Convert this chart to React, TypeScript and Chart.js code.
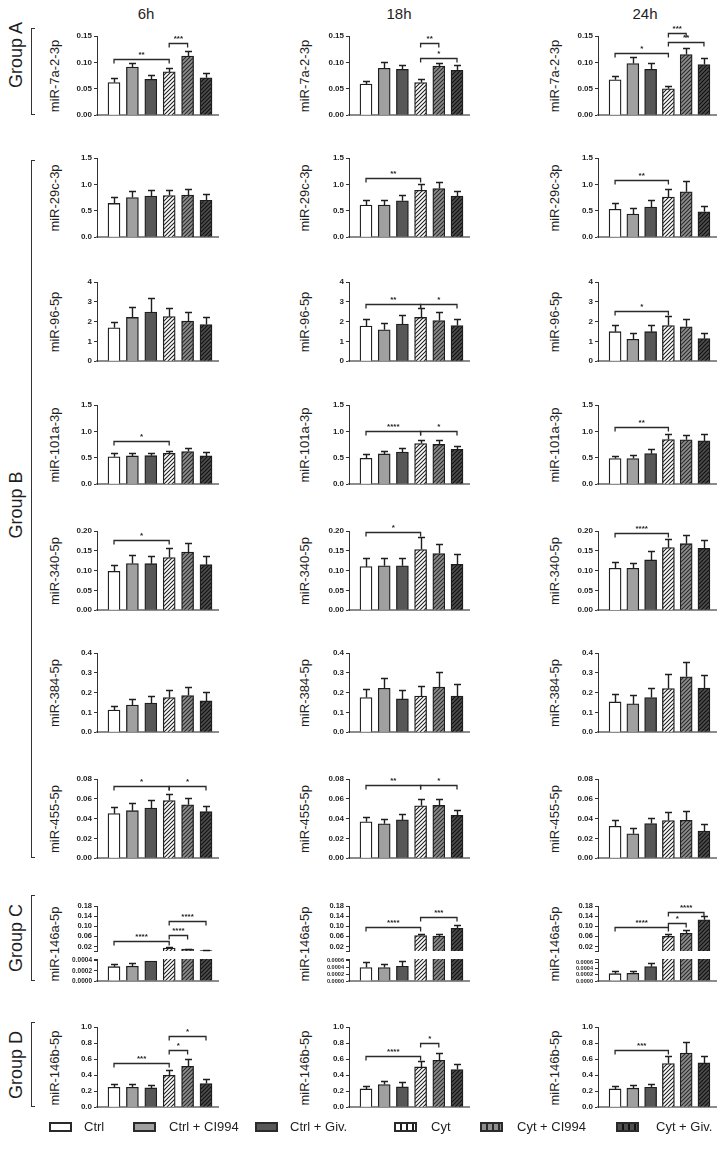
import React, { useEffect, useRef } from "react";
import { Chart, registerables } from "chart.js";

Chart.register(...registerables);

// ---------- categories & labels ----------
const conditions = ["Ctrl", "Ctrl + CI994", "Ctrl + Giv.", "Cyt", "Cyt + CI994", "Cyt + Giv."];
const timepoints = ["6h", "18h", "24h"];
const mirnas = [
  "miR-7a-2-3p", "miR-29c-3p", "miR-96-5p", "miR-101a-3p", "miR-340-5p",
  "miR-384-5p", "miR-455-5p", "miR-146a-5p", "miR-146b-5p",
];
const groupNames = ["Group A", "Group B", "Group C", "Group D"];

// ---------- axis settings (per miRNA row) ----------
const yMaxes = [0.15, 1.5, 4, 1.5, 0.2, 0.4, 0.08, 0.18, 1.0];
const ySteps = [0.05, 0.5, 1, 0.5, 0.05, 0.1, 0.02, 0.04, 0.2];
const yDecimals = [2, 1, 0, 1, 2, 1, 2, 2, 1];
const mir146aTopTicks = [0.02, 0.06, 0.1, 0.14, 0.18];
const mir146aLowMax = [0.00043, 0.00064, 0.00072];
const mir146aLowTicks = [0, 0.0002, 0.0004, 0.0006];

type Sig = [number, number, number, string];

// ---------- data: means, SEM, significance brackets ----------
const m7a_6h = [0.062, 0.091, 0.068, 0.082, 0.112, 0.071];
const e7a_6h = [0.009, 0.007, 0.008, 0.008, 0.01, 0.009];
const m7a_18h = [0.059, 0.089, 0.087, 0.062, 0.093, 0.085];
const e7a_18h = [0.006, 0.011, 0.009, 0.006, 0.006, 0.01];
const m7a_24h = [0.067, 0.098, 0.087, 0.05, 0.115, 0.096];
const e7a_24h = [0.007, 0.013, 0.012, 0.006, 0.013, 0.013];
const s7a_6h: Sig[] = [[0, 3, 0.106, "**"], [3, 4, 0.137, "***"]];
const s7a_18h: Sig[] = [[3, 4, 0.136, "**"], [3, 5, 0.108, "*"]];
const s7a_24h: Sig[] = [[0, 3, 0.118, "*"], [3, 4, 0.156, "***"], [3, 5, 0.138, "**"]];

const m29c_6h = [0.64, 0.75, 0.78, 0.79, 0.8, 0.7];
const e29c_6h = [0.12, 0.12, 0.11, 0.1, 0.11, 0.11];
const m29c_18h = [0.61, 0.61, 0.69, 0.89, 0.92, 0.78];
const e29c_18h = [0.1, 0.1, 0.11, 0.12, 0.12, 0.09];
const m29c_24h = [0.53, 0.44, 0.57, 0.76, 0.86, 0.48];
const e29c_24h = [0.12, 0.11, 0.13, 0.16, 0.2, 0.12];
const s29c_6h: Sig[] = [];
const s29c_18h: Sig[] = [[0, 3, 1.125, "**"]];
const s29c_24h: Sig[] = [[0, 3, 1.08, "**"]];

const m96_6h = [1.69, 2.21, 2.48, 2.25, 2.02, 1.85];
const e96_6h = [0.29, 0.55, 0.69, 0.46, 0.49, 0.36];
const m96_18h = [1.77, 1.59, 1.88, 2.21, 2.05, 1.8];
const e96_18h = [0.36, 0.33, 0.43, 0.47, 0.41, 0.33];
const m96_24h = [1.49, 1.11, 1.49, 1.8, 1.74, 1.14];
const e96_24h = [0.36, 0.29, 0.33, 0.46, 0.41, 0.3];
const s96_6h: Sig[] = [];
const s96_18h: Sig[] = [[0, 3, 2.88, "**"], [3, 5, 2.88, "*"]];
const s96_24h: Sig[] = [[0, 3, 2.55, "*"]];

const m101_6h = [0.52, 0.535, 0.54, 0.585, 0.62, 0.535];
const e101_6h = [0.068, 0.05, 0.06, 0.05, 0.065, 0.075];
const m101_18h = [0.49, 0.573, 0.61, 0.77, 0.753, 0.66];
const e101_18h = [0.076, 0.062, 0.075, 0.076, 0.081, 0.062];
const m101_24h = [0.485, 0.485, 0.579, 0.846, 0.84, 0.82];
const e101_24h = [0.05, 0.063, 0.081, 0.112, 0.1, 0.132];
const s101_6h: Sig[] = [[0, 3, 0.815, "*"]];
const s101_18h: Sig[] = [[0, 3, 1.0, "****"], [3, 5, 1.0, "*"]];
const s101_24h: Sig[] = [[0, 3, 1.077, "**"]];

const m340_6h = [0.098, 0.118, 0.1175, 0.133, 0.147, 0.115];
const e340_6h = [0.015, 0.021, 0.0195, 0.025, 0.022, 0.021];
const m340_18h = [0.11, 0.112, 0.112, 0.153, 0.143, 0.116];
const e340_18h = [0.023, 0.021, 0.021, 0.031, 0.024, 0.025];
const m340_24h = [0.106, 0.106, 0.127, 0.158, 0.168, 0.156];
const e340_24h = [0.015, 0.013, 0.022, 0.023, 0.022, 0.021];
const s340_6h: Sig[] = [[0, 3, 0.1775, "*"]];
const s340_18h: Sig[] = [[0, 3, 0.197, "*"]];
const s340_24h: Sig[] = [[0, 3, 0.196, "****"]];

const m384_6h = [0.112, 0.137, 0.147, 0.175, 0.185, 0.158];
const e384_6h = [0.018, 0.03, 0.036, 0.04, 0.043, 0.047];
const m384_18h = [0.175, 0.222, 0.168, 0.183, 0.228, 0.183];
const e384_18h = [0.042, 0.053, 0.047, 0.05, 0.075, 0.062];
const m384_24h = [0.153, 0.143, 0.175, 0.22, 0.28, 0.223];
const e384_24h = [0.042, 0.044, 0.05, 0.075, 0.077, 0.067];
const s384_6h: Sig[] = [];
const s384_18h: Sig[] = [];
const s384_24h: Sig[] = [];

const m455_6h = [0.045, 0.048, 0.0507, 0.0583, 0.054, 0.047];
const e455_6h = [0.0067, 0.0073, 0.0076, 0.0067, 0.007, 0.006];
const m455_18h = [0.0367, 0.0347, 0.0387, 0.053, 0.0533, 0.0433];
const e455_18h = [0.0053, 0.0053, 0.0063, 0.0073, 0.007, 0.005];
const m455_24h = [0.0323, 0.0247, 0.035, 0.038, 0.0383, 0.0273];
const e455_24h = [0.0067, 0.0056, 0.0057, 0.0087, 0.009, 0.007];
const s455_6h: Sig[] = [[0, 3, 0.0733, "*"], [3, 5, 0.0733, "*"]];
const s455_18h: Sig[] = [[0, 3, 0.074, "**"], [3, 5, 0.074, "*"]];
const s455_24h: Sig[] = [];

const m146a_6h = [0.00028, 0.00029, 0.00039, 0.014, 0.0095, 0.0035];
const e146a_6h = [0.00006, 0.00007, 0.00008, 0.003, 0.0015, 0.001];
const m146a_18h = [0.00039, 0.00039, 0.00043, 0.063, 0.061, 0.0915];
const e146a_18h = [0.00016, 0.0001, 0.00014, 0.008, 0.009, 0.013];
const m146a_24h = [0.00024, 0.00025, 0.00047, 0.06, 0.0716, 0.1255];
const e146a_24h = [0.00008, 0.00007, 0.00013, 0.0098, 0.012, 0.013];
const s146a_6h: Sig[] = [[0, 3, 0.0407, "****"], [3, 4, 0.064, "****"], [3, 5, 0.1215, "****"]];
const s146a_18h: Sig[] = [[0, 3, 0.097, "****"], [3, 5, 0.137, "***"]];
const s146a_24h: Sig[] = [[0, 3, 0.0958, "****"], [3, 4, 0.1136, "*"], [3, 5, 0.158, "****"]];

const m146b_6h = [0.249, 0.249, 0.24, 0.398, 0.51, 0.295];
const e146b_6h = [0.041, 0.041, 0.042, 0.062, 0.09, 0.058];
const m146b_18h = [0.228, 0.282, 0.253, 0.502, 0.585, 0.469];
const e146b_18h = [0.042, 0.05, 0.058, 0.071, 0.091, 0.075];
const m146b_24h = [0.228, 0.237, 0.249, 0.544, 0.676, 0.552];
const e146b_24h = [0.042, 0.041, 0.041, 0.091, 0.133, 0.091];
const s146b_6h: Sig[] = [[0, 3, 0.552, "***"], [3, 4, 0.714, "*"], [3, 5, 0.884, "*"]];
const s146b_18h: Sig[] = [[0, 3, 0.635, "****"], [3, 4, 0.8, "*"]];
const s146b_24h: Sig[] = [[0, 3, 0.718, "***"]];

const means = [
  [m7a_6h, m7a_18h, m7a_24h], [m29c_6h, m29c_18h, m29c_24h], [m96_6h, m96_18h, m96_24h],
  [m101_6h, m101_18h, m101_24h], [m340_6h, m340_18h, m340_24h], [m384_6h, m384_18h, m384_24h],
  [m455_6h, m455_18h, m455_24h], [m146a_6h, m146a_18h, m146a_24h], [m146b_6h, m146b_18h, m146b_24h],
];
const sems = [
  [e7a_6h, e7a_18h, e7a_24h], [e29c_6h, e29c_18h, e29c_24h], [e96_6h, e96_18h, e96_24h],
  [e101_6h, e101_18h, e101_24h], [e340_6h, e340_18h, e340_24h], [e384_6h, e384_18h, e384_24h],
  [e455_6h, e455_18h, e455_24h], [e146a_6h, e146a_18h, e146a_24h], [e146b_6h, e146b_18h, e146b_24h],
];
const sigs = [
  [s7a_6h, s7a_18h, s7a_24h], [s29c_6h, s29c_18h, s29c_24h], [s96_6h, s96_18h, s96_24h],
  [s101_6h, s101_18h, s101_24h], [s340_6h, s340_18h, s340_24h], [s384_6h, s384_18h, s384_24h],
  [s455_6h, s455_18h, s455_24h], [s146a_6h, s146a_18h, s146a_24h], [s146b_6h, s146b_18h, s146b_24h],
];

// ---------- layout (pixels) ----------
const colAxisX = [97, 349, 598];
const colSpacing = [18.4, 18.2, 17.7];
const colLabelX = [54, 304, 554];
const colTitleX = [146, 399, 645];
const rowTopPx = [36, 158, 282, 405, 531, 653, 779, 906, 1027];
const rowZeroPx = [116, 238, 362, 485, 611, 733, 859, 952, 1108];
const lowTopPx = 959;
const lowZeroPx = 981;
const groupSpan = [[28, 115], [160, 858], [895, 981], [1022, 1107]];
const groupLabelY = [55, 505, 938, 1065];
const legendBoxX = [49, 133, 255, 394, 480, 616];
const legendTextX = [84, 169, 290, 431, 517, 656];
const legendY = 1127;

const YW = 36;
const FIRST = 17;
const TAIL = 12;
const PAD_R = 3;
const TICK_FONT = "'Liberation Sans', Arial, sans-serif";
const TEXT_FONT = "'Liberation Sans', Arial, sans-serif";

const barFills = ["#ffffff", "#a0a0a0", "#575757"];
const hatchBg = ["#ffffff", "#8e8e8e", "#4d4d4d"];
const hatchFg = ["#1e1e1e", "#2a2a2a", "#111111"];

function hatch(ctx: CanvasRenderingContext2D, bg: string, fg: string) {
  const s = 4;
  const c = document.createElement("canvas");
  c.width = s;
  c.height = s;
  const g = c.getContext("2d")!;
  g.fillStyle = bg;
  g.fillRect(0, 0, s, s);
  g.strokeStyle = fg;
  g.lineWidth = 1.1;
  g.beginPath();
  g.moveTo(0, s);
  g.lineTo(s, 0);
  g.moveTo(-1, 1);
  g.lineTo(1, -1);
  g.moveTo(s - 1, s + 1);
  g.lineTo(s + 1, s - 1);
  g.stroke();
  return ctx.createPattern(c, "repeat")!;
}

type PanelProps = {
  mean: number[];
  sem: number[];
  sig: Sig[];
  show: boolean[];
  col: number;
  top: number;
  zero: number;
  yMin: number;
  yMax: number;
  ticks: number[];
  labeled: (v: number) => boolean;
  dec: number;
  fontSize: number;
  showX: boolean;
  padT: number;
  padB: number;
};

function Panel(p: PanelProps) {
  const ref = useRef<HTMLCanvasElement | null>(null);
  const sp = colSpacing[p.col];
  const left = colAxisX[p.col] - YW;
  const top = p.top - p.padT;
  const plotH = p.zero - p.top;
  const plotW = Math.round(FIRST + 5 * sp + TAIL);
  const W = YW + plotW + PAD_R;
  const H = p.padT + plotH + p.padB;

  useEffect(() => {
    const canvas = ref.current!;
    const ctx = canvas.getContext("2d")!;
    const fills: any[] = [
      ...barFills,
      ...hatchBg.map((bg, i) => hatch(ctx, bg, hatchFg[i])),
    ];
    const data = p.mean.map((v, i) => ({ x: i, y: p.show[i] ? v : null }));

    const errPlugin = {
      id: "errbars",
      afterDatasetsDraw(chart: any) {
        const c = chart.ctx;
        const ys = chart.scales.y;
        const meta = chart.getDatasetMeta(0);
        c.save();
        c.strokeStyle = "#1e1e1e";
        c.lineWidth = 1.4;
        meta.data.forEach((el: any, i: number) => {
          if (!p.show[i]) return;
          const v = p.mean[i];
          const t = v + p.sem[i];
          if (t > ys.max) return;
          const x = Math.round(el.x) + 0.5;
          const y0 = ys.getPixelForValue(v);
          const y1 = Math.round(ys.getPixelForValue(t)) + 0.5;
          c.beginPath();
          c.moveTo(x, y0);
          c.lineTo(x, y1);
          c.moveTo(x - 3.5, y1);
          c.lineTo(x + 3.5, y1);
          c.stroke();
        });
        c.restore();
      },
    };

    const sigPlugin = {
      id: "sigbrackets",
      afterDraw(chart: any) {
        const c = chart.ctx;
        const xs = chart.scales.x;
        const ys = chart.scales.y;
        c.save();
        c.strokeStyle = "#2a2a2a";
        c.fillStyle = "#1e1e1e";
        c.lineWidth = 1.3;
        c.font = `bold 8px ${TEXT_FONT}`;
        c.textAlign = "center";
        c.textBaseline = "bottom";
        p.sig.forEach(([a, b, h, lab]) => {
          const xa = xs.getPixelForValue(a);
          const xb = xs.getPixelForValue(b);
          const y = Math.round(ys.getPixelForValue(h)) + 0.5;
          c.beginPath();
          c.moveTo(xa, y + 4);
          c.lineTo(xa, y);
          c.lineTo(xb, y);
          c.lineTo(xb, y + 4);
          c.stroke();
          c.fillText(lab, (xa + xb) / 2, y - 0.5);
        });
        c.restore();
      },
    };

    const chart = new Chart(canvas, {
      type: "bar",
      data: {
        datasets: [
          {
            data: data as any,
            backgroundColor: fills,
            borderColor: "#1e1e1e",
            borderWidth: 1.3,
            barThickness: 12,
            clip: 0 as any,
          },
        ],
      },
      options: {
        responsive: false,
        animation: false,
        devicePixelRatio: 1,
        layout: { padding: { top: p.padT, bottom: p.padB, left: 0, right: PAD_R } },
        plugins: { legend: { display: false }, tooltip: { enabled: false } },
        scales: {
          x: {
            type: "linear",
            min: -FIRST / sp,
            max: 5 + TAIL / sp,
            offset: false,
            ticks: { display: false },
            grid: { display: false, drawTicks: false, offset: false },
            border: { display: p.showX, color: "#8c8c8c", width: 2 },
            afterFit: (s: any) => {
              s.height = 0;
            },
          },
          y: {
            min: p.yMin,
            max: p.yMax,
            ticks: {
              autoSkip: false,
              padding: 2,
              color: "#1e1e1e",
              font: { family: TICK_FONT, size: p.fontSize, weight: "bold" },
              callback: (v: any) => (p.labeled(Number(v)) ? Number(v).toFixed(p.dec) : ""),
            },
            grid: { display: true, drawOnChartArea: false, drawTicks: true, tickLength: 3, color: "#333333", lineWidth: 1 },
            border: { display: true, color: "#333333", width: 1 },
            afterBuildTicks: (s: any) => {
              s.ticks = p.ticks.map((v) => ({ value: v }));
            },
            afterFit: (s: any) => {
              s.width = YW;
            },
          },
        },
      } as any,
      plugins: [errPlugin, sigPlugin],
    });
    return () => chart.destroy();
  }, []);

  return (
    <canvas
      ref={ref}
      width={W}
      height={H}
      style={{ position: "absolute", left, top, width: W, height: H }}
    />
  );
}

function rangeTicks(max: number, step: number) {
  const out: number[] = [];
  const n = Math.round(max / step);
  for (let i = 0; i <= n; i++) out.push(Number((i * step).toFixed(6)));
  return out;
}

const allTrue = [true, true, true, true, true, true];
const topOnly = [false, false, false, true, true, true];

function Legend() {
  return (
    <>
      {conditions.map((name, i) => {
        let bg: string;
        if (i < 3) {
          bg = barFills[i];
        } else {
          bg = `repeating-linear-gradient(90deg, ${hatchBg[i - 3]} 0px, ${hatchBg[i - 3]} 4px, ${hatchFg[i - 3]} 4px, ${hatchFg[i - 3]} 6px)`;
        }
        return (
          <React.Fragment key={name}>
            <div
              style={{
                position: "absolute",
                left: legendBoxX[i],
                top: legendY - 5,
                width: 19,
                height: 6,
                border: "2.5px solid #2a2a2a",
                background: bg,
              }}
            />
            <div
              style={{
                position: "absolute",
                left: legendTextX[i],
                top: legendY - 9,
                fontSize: 13,
                lineHeight: "18px",
                color: "#1e1e1e",
                whiteSpace: "nowrap",
                fontFamily: TEXT_FONT,
              }}
            >
              {name}
            </div>
          </React.Fragment>
        );
      })}
    </>
  );
}

function Rotated({ x, y, text, size }: { x: number; y: number; text: string; size: number }) {
  return (
    <div
      style={{
        position: "absolute",
        left: x,
        top: y,
        transform: "translate(-50%, -50%) rotate(-90deg)",
        fontSize: size,
        lineHeight: 1,
        whiteSpace: "nowrap",
        color: "#1e1e1e",
        fontFamily: TEXT_FONT,
      }}
    >
      {text}
    </div>
  );
}

export default function App() {
  const panels: any[] = [];
  mirnas.forEach((mir, r) => {
    timepoints.forEach((_, c) => {
      if (r === 7) {
        // broken axis: upper segment
        panels.push(
          <Panel
            key={`${r}-${c}-top`}
            mean={means[r][c]}
            sem={sems[r][c]}
            sig={sigs[r][c]}
            show={topOnly}
            col={c}
            top={rowTopPx[r]}
            zero={rowZeroPx[r]}
            yMin={0}
            yMax={yMaxes[r]}
            ticks={[0, ...mir146aTopTicks]}
            labeled={(v) => v > 0.001}
            dec={yDecimals[r]}
            fontSize={7.5}
            showX={false}
            padT={26}
            padB={6}
          />
        );
        // lower segment
        const lowMax = mir146aLowMax[c];
        panels.push(
          <Panel
            key={`${r}-${c}-low`}
            mean={means[r][c]}
            sem={sems[r][c]}
            sig={[]}
            show={allTrue}
            col={c}
            top={lowTopPx}
            zero={lowZeroPx}
            yMin={0}
            yMax={lowMax}
            ticks={[...mir146aLowTicks.filter((t) => t < lowMax - 0.00001), lowMax]}
            labeled={(v) => Math.abs(v / 0.0002 - Math.round(v / 0.0002)) < 0.01}
            dec={4}
            fontSize={c === 0 ? 6.5 : 5.6}
            showX={true}
            padT={6}
            padB={6}
          />
        );
      } else {
        panels.push(
          <Panel
            key={`${r}-${c}`}
            mean={means[r][c]}
            sem={sems[r][c]}
            sig={sigs[r][c]}
            show={allTrue}
            col={c}
            top={rowTopPx[r]}
            zero={rowZeroPx[r]}
            yMin={0}
            yMax={yMaxes[r]}
            ticks={rangeTicks(yMaxes[r], ySteps[r])}
            labeled={() => true}
            dec={yDecimals[r]}
            fontSize={8}
            showX={true}
            padT={26}
            padB={6}
          />
        );
      }
    });
  });

  const rowLabelY = mirnas.map((_, r) =>
    r === 7 ? (rowTopPx[r] + lowZeroPx) / 2 : (rowTopPx[r] + rowZeroPx[r]) / 2
  );

  return (
    <div
      style={{
        position: "absolute",
        left: 0,
        top: 0,
        width: 727,
        height: 1149,
        background: "#ffffff",
        fontFamily: TEXT_FONT,
        overflow: "hidden",
      }}
    >
      {timepoints.map((t, c) => (
        <div
          key={t}
          style={{
            position: "absolute",
            left: colTitleX[c],
            top: 13,
            transform: "translate(-50%, -50%)",
            fontSize: 15,
            color: "#1e1e1e",
            whiteSpace: "nowrap",
          }}
        >
          {t}
        </div>
      ))}

      {groupNames.map((g, i) => (
        <React.Fragment key={g}>
          <Rotated x={16} y={groupLabelY[i]} text={g} size={18} />
          <div
            style={{
              position: "absolute",
              left: 31,
              top: groupSpan[i][0],
              width: 4,
              height: groupSpan[i][1] - groupSpan[i][0],
              borderLeft: "1px solid #333",
              borderTop: "1px solid #333",
              borderBottom: "1px solid #333",
              boxSizing: "border-box",
            }}
          />
        </React.Fragment>
      ))}

      {mirnas.map((m, r) =>
        timepoints.map((_, c) => (
          <Rotated key={`${m}-${c}`} x={colLabelX[c]} y={rowLabelY[r]} text={m} size={13} />
        ))
      )}

      {panels}

      <Legend />
    </div>
  );
}
